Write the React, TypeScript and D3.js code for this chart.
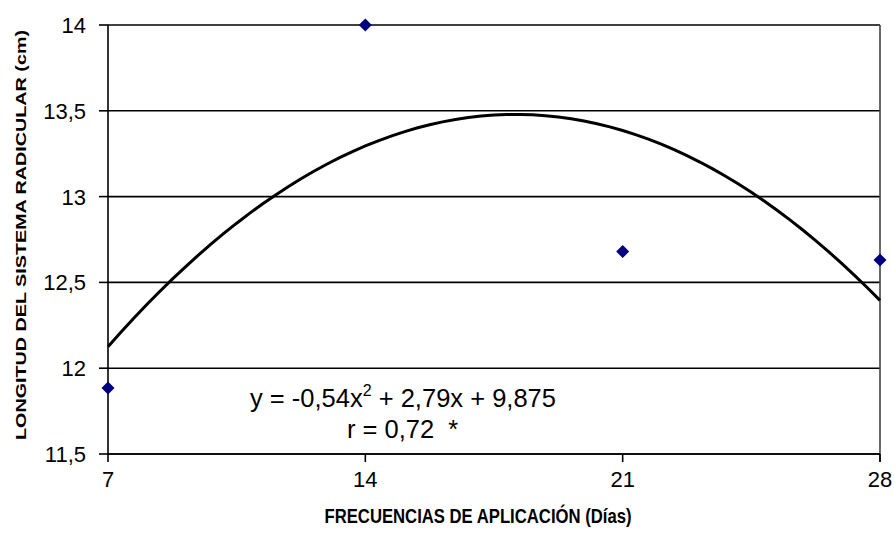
import React from 'react';
import * as d3 from 'd3';

// data
const days = [7, 14, 21, 28];
const longitud = [11.885, 14.0, 12.68, 12.63];
const yTicks = [11.5, 12, 12.5, 13, 13.5, 14];
// trendline y = a x^2 + b x + c, x = index of the frequency (1..4)
const trendCoef = [-0.54, 2.79, 9.875];

const W = 894, H = 545;
const left = 108, right = 880, top = 25, bottom = 454;
const font = 'Arial, "Liberation Sans", sans-serif';
const narrow = '"Liberation Sans Narrow", "Arial Narrow", Arial, sans-serif';

const fmt = (v: number) => String(v).replace('.', ',');

export default function App() {
  const x = d3.scaleLinear().domain([7, 28]).range([left, right]);
  const y = d3.scaleLinear().domain([11.5, 14]).range([bottom, top]);

  // trendline sampled along the x range
  const [a, b, c] = trendCoef;
  const trend = d3.range(1, 4.0001, 0.05).map((t) => [t * 7, a * t * t + b * t + c]);
  const lineGen = d3.line<number[]>()
    .x((d) => x(d[0]))
    .y((d) => y(d[1]));

  const r = 6.5;
  const diamond = `M0,${-r}L${r},0L0,${r}L${-r},0Z`;

  return (
    <svg width={W} height={H} style={{ position: 'absolute', left: 0, top: 0, background: '#fff' }}>
      {/* gridlines */}
      {yTicks.map((t) => (
        <line key={t} x1={left} x2={right} y1={y(t)} y2={y(t)} stroke="#000" strokeWidth={1.6} />
      ))}
      {/* right border */}
      <line x1={right} x2={right} y1={top} y2={bottom + 8} stroke="#444" strokeWidth={1.6} />
      {/* axes */}
      <line x1={left} x2={left} y1={top} y2={bottom} stroke="#000" strokeWidth={1.6} />
      <line x1={left} x2={right} y1={bottom} y2={bottom} stroke="#000" strokeWidth={1.6} />
      {yTicks.map((t) => (
        <g key={'yt' + t}>
          <line x1={left - 9} x2={left} y1={y(t)} y2={y(t)} stroke="#000" strokeWidth={1.6} />
          <text x={left - 22} y={y(t)} dy="0.36em" textAnchor="end" fontFamily={font} fontSize={22}>
            {fmt(t)}
          </text>
        </g>
      ))}
      {days.map((d) => (
        <g key={'xt' + d}>
          <line x1={x(d)} x2={x(d)} y1={bottom} y2={bottom + 8} stroke="#000" strokeWidth={1.6} />
          <text x={x(d)} y={bottom + 33} textAnchor="middle" fontFamily={narrow} fontSize={22}>
            {d}
          </text>
        </g>
      ))}

      {/* trendline */}
      <path d={lineGen(trend) || ''} fill="none" stroke="#000" strokeWidth={3} />

      {/* points */}
      {days.map((d, i) => (
        <path key={'p' + d} d={diamond} transform={`translate(${x(d)},${y(longitud[i])})`} fill="#000080" />
      ))}

      {/* equation */}
      <text x={403} y={407} textAnchor="middle" fontFamily={font} fontSize={25.5}>
        y = -0,54x<tspan dy={-11} fontSize={16}>2</tspan>
        <tspan dy={11}> + 2,79x + 9,875</tspan>
      </text>
      <text x={347} y={438} fontFamily={font} fontSize={25.5} style={{ whiteSpace: 'pre' }}>
        {'r = 0,72  *'}
      </text>

      {/* axis titles */}
      <text
        x={478}
        y={523}
        textAnchor="middle"
        fontFamily={narrow}
        fontWeight="bold"
        fontSize={21}
        textLength={307}
        lengthAdjust="spacingAndGlyphs"
      >
        FRECUENCIAS DE APLICACIÓN (Días)
      </text>
      <text
        transform={`translate(26,${235}) rotate(-90)`}
        textAnchor="middle"
        fontFamily={font}
        fontWeight="bold"
        fontSize={15}
        textLength={410}
        lengthAdjust="spacingAndGlyphs"
      >
        LONGITUD DEL SISTEMA RADICULAR (cm)
      </text>
    </svg>
  );
}
